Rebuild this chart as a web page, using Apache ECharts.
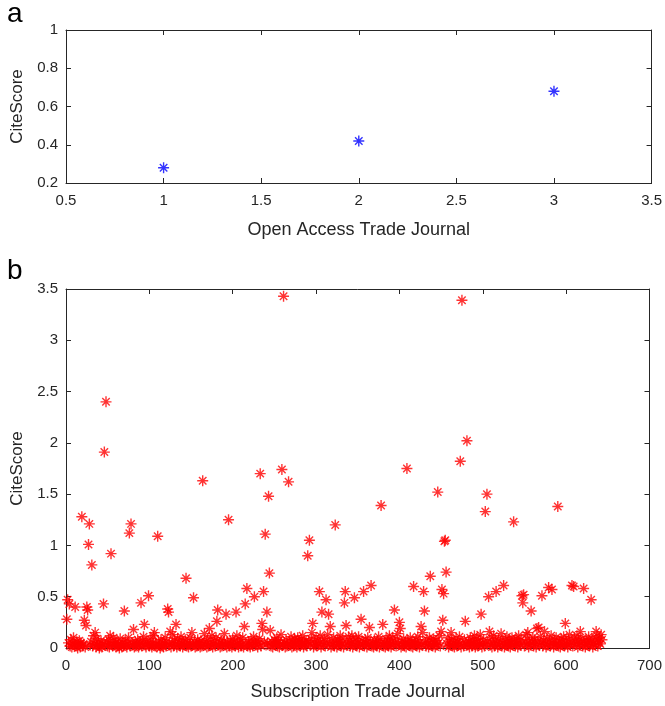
<!DOCTYPE html>
<html>
<head>
<meta charset="utf-8">
<script src="https://cdn.jsdelivr.net/npm/echarts@6/dist/echarts.min.js"></script>
<style>
html,body{margin:0;padding:0;background:#fff;}
#chart{width:665px;height:706px;}
</style>
</head>
<body>
<div id="chart"></div>
<script>
// Panel a: open access trade journals
var openAccessJournal = [1, 2, 3];
var openAccessCiteScore = [0.28, 0.42, 0.68];

// Panel b: subscription trade journals (journal index = position + 1)
var subscriptionCiteScore = [
0.28,0.47,0.05,0.43,0.02,0.08,0.01,0.04,0.1,0.03,0.40,0.02,0.06,0,0.03,0.07,0.01,0.05,1.28,0.02,
0.04,0.27,0.01,0.22,0.40,0.37,1.01,1.21,0.03,0.06,0.81,0.02,0.12,0.04,0.15,0.01,0.09,0.03,0.05,0,
0.02,0.07,0.01,0.04,0.43,1.91,0.03,2.40,0.06,0.02,0.08,0.01,0.12,0.92,0.04,0.02,0.1,0.03,0.05,0.01,
0.06,0.02,0.04,0,0.09,0.03,0.01,0.05,0.02,0.36,0.07,0.03,0.01,0.04,0.1,1.12,0.02,1.21,0.05,0.03,
0.18,0.01,0.06,0.02,0.04,0.08,0.01,0.03,0.05,0.44,0.02,0.07,0.11,0.23,0.03,0.01,0.06,0.04,0.51,0.02,
0.09,0.03,0.01,0.05,0.12,0.15,0.02,0.04,0.01,1.09,0.06,0.03,0,0.08,0.02,0.05,0.01,0.04,0.1,0.02,
0.06,0.38,0.35,0.03,0.16,0.01,0.05,0.13,0.02,0.07,0.04,0.23,0.01,0.09,0.03,0.05,0.02,0.11,0.04,0.01,
0.06,0.03,0.08,0.68,0.02,0.05,0.01,0.04,0.1,0.02,0.15,0.03,0.49,0.06,0.01,0.04,0.02,0.08,0.03,0.05,
0.01,0.07,0.02,1.63,0.04,0.14,0.03,0.06,0.01,0.09,0.02,0.19,0.05,0.03,0.12,0.01,0.04,0.07,0.02,0.1,
0.26,0.37,0.03,0.05,0.01,0.08,0.02,0.04,0.06,0.14,0.03,0.33,0.01,0.05,1.25,0.02,0.07,0.04,0.01,0.09,
0.03,0.06,0.02,0.35,0.12,0.04,0.01,0.05,0.08,0.02,0.03,0.1,0.01,0.21,0.43,0.04,0.58,0.02,0.06,0.03,
0.01,0.08,0.04,0.02,0.11,0.50,0.05,0.03,0.07,0.01,0.04,0.09,1.70,0.02,0.24,0.18,0.55,0.06,1.11,0.03,
0.35,0.05,1.48,0.73,0.17,0.02,0.06,0.01,0.04,0.08,0.03,0.05,0.1,0.02,0.07,0.01,0.04,0.13,1.74,0.03,
3.43,0.05,0.01,0.08,0.02,0.04,1.62,0.06,0.03,0.11,0.01,0.05,0.02,0.09,0.04,0.07,0.01,0.1,0.03,0.06,
0.02,0.08,0.04,0.12,0.01,0.05,0.03,0.07,0.02,0.90,0.06,1.05,0.04,0.09,0.15,0.24,0.01,0.05,0.03,0.1,
0.02,0.07,0.04,0.55,0.12,0.01,0.35,0.06,0.03,0.09,0.02,0.47,0.05,0.13,0.33,0.04,0.21,0.01,0.07,0.03,
0.1,0.02,1.20,0.05,0.01,0.08,0.03,0.06,0.12,0.02,0.04,0.09,0.01,0.44,0.55,0.22,0.05,0.03,0.11,0.07,
0.02,0.04,0.12,0.01,0.06,0.49,0.03,0.09,0.02,0.05,0.11,0.01,0.04,0.28,0.07,0.03,0.55,0.02,0.08,0.05,
0.01,0.1,0.03,0.20,0.06,0.61,0.02,0.04,0.01,0.08,0.03,0.05,0.02,0.07,0.11,0.01,0.04,1.39,0.06,0.23,
0.02,0.05,0.01,0.09,0.03,0.07,0.02,0.12,0.04,0.01,0.06,0.1,0.03,0.37,0.05,0.02,0.08,0.14,0.04,0.25,
0.19,0.01,0.06,0.03,0.09,0.02,0.05,0.01,1.75,0.07,0.03,0.04,0.1,0.02,0.06,0.01,0.60,0.05,0.03,0.08,
0.02,0.11,0.04,0.01,0.06,0.21,0.03,0.15,0.55,0.36,0.05,0.02,0.08,0.04,0.01,0.1,0.70,0.03,0.06,0.02,
0.09,0.04,0.01,0.07,0.03,1.52,0.05,0.12,0.02,0.16,0.57,0.27,0.53,1.04,1.05,0.74,0.04,0.1,0.01,0.06,
0.03,0.15,0.08,0.02,0.05,0.01,0.04,0.09,0.02,0.06,0.03,0.11,1.82,0.01,3.39,0.05,0.02,0.08,0.26,0.04,
2.02,0.03,0.06,0.01,0.1,0.04,0.02,0.07,0.05,0.12,0.01,0.03,0.09,0.02,0.06,0.04,0.13,0.33,0.01,0.05,
0.08,0.02,1.33,0.04,1.50,0.06,0.50,0.16,0.03,0.1,0.01,0.05,0.12,0.02,0.07,0.55,0.04,0.01,0.09,0.03,
0.06,0.14,0.02,0.05,0.61,0.01,0.08,0.03,0.11,0.04,0.02,0.07,0.01,0.05,0.1,0.03,1.23,0.06,0.02,0.09,
0.04,0.01,0.12,0.05,0.03,0.08,0.51,0.44,0.52,0.02,0.06,0.13,0.04,0.15,0.01,0.07,0.03,0.36,0.05,0.1,
0.02,0.08,0.04,0.01,0.19,0.06,0.2,0.03,0.11,0.05,0.51,0.02,0.07,0.16,0.04,0.01,0.09,0.03,0.59,0.06,
0.02,0.12,0.57,0.05,0.01,0.08,0.03,0.1,0.04,1.38,0.02,0.06,0.01,0.09,0.05,0.03,0.11,0.02,0.24,0.07,
0.04,0.01,0.08,0.13,0.03,0.05,0.61,0.02,0.60,0.1,0.06,0.04,0.12,0.01,0.07,0.03,0.16,0.05,0.09,0.02,
0.58,0.04,0.01,0.08,0.06,0.03,0.11,0.02,0.05,0.47,0.09,0.01,0.04,0.07,0.03,0.16,0.12,0.02,0.06,0.1,
0.04,0.13,0.08
];

// Axis ticks
var axisAMin = 0.5, axisAMax = 3.5, axisAStep = 0.5;
var axisAYMin = 0.2, axisAYMax = 1, axisAYStep = 0.2;
var axisBMin = 0, axisBMax = 700, axisBStep = 100;
var axisBYMin = 0, axisBYMax = 3.5, axisBYStep = 0.5;

var FONT = '"Liberation Sans", Arial, Helvetica, sans-serif';
var AX = '#262626';
var STAR = 'path://M5,0 L5,10 M0,5 L10,5 M1.6,1.6 L8.4,8.4 M1.6,8.4 L8.4,1.6';

function xAx(gi, pos, min, max, step, name, gap, show) {
  return {
    type: 'value', gridIndex: gi, position: pos, min: min, max: max, interval: step,
    name: show ? name : '', nameLocation: 'middle', nameGap: gap,
    nameTextStyle: {fontFamily: FONT, fontSize: 18, color: AX},
    axisLine: {show: true, onZero: false, lineStyle: {color: AX, width: 1}},
    axisTick: {show: true, inside: true, length: 5, lineStyle: {color: AX}},
    axisLabel: {show: show, fontFamily: FONT, fontSize: 15, color: AX, margin: 10},
    splitLine: {show: false}
  };
}
function yAx(gi, pos, min, max, step, name, gap, show) {
  return {
    type: 'value', gridIndex: gi, position: pos, min: min, max: max, interval: step,
    name: show ? name : '', nameLocation: 'middle', nameGap: gap,
    nameTextStyle: {fontFamily: FONT, fontSize: 17, color: AX},
    axisLine: {show: true, onZero: false, lineStyle: {color: AX, width: 1}},
    axisTick: {show: true, inside: true, length: 5, lineStyle: {color: AX}},
    axisLabel: {show: show, fontFamily: FONT, fontSize: 15, color: AX, margin: 8},
    splitLine: {show: false}
  };
}

var chart = echarts.init(document.getElementById('chart'), null, {renderer: 'canvas'});
chart.setOption({
  animation: false,
  backgroundColor: '#ffffff',
  grid: [
    {left: 66, top: 30, width: 587, height: 153},
    {left: 66, top: 289, width: 587, height: 360}
  ],
  graphic: [
    {type: 'text', left: 7, top: 0, style: {text: 'a', fontFamily: FONT, fontSize: 28, fill: '#000'}},
    {type: 'text', left: 7, top: 257, style: {text: 'b', fontFamily: FONT, fontSize: 28, fill: '#000'}}
  ],
  xAxis: [
    xAx(0, 'bottom', axisAMin, axisAMax, axisAStep, 'Open Access Trade Journal', 38, true),
    xAx(0, 'top', axisAMin, axisAMax, axisAStep, '', 0, false),
    xAx(1, 'bottom', axisBMin, axisBMax, axisBStep, 'Subscription Trade Journal', 35, true),
    xAx(1, 'top', axisBMin, axisBMax, axisBStep, '', 0, false)
  ],
  yAxis: [
    yAx(0, 'left', axisAYMin, axisAYMax, axisAYStep, 'CiteScore', 40, true),
    yAx(0, 'right', axisAYMin, axisAYMax, axisAYStep, '', 0, false),
    yAx(1, 'left', axisBYMin, axisBYMax, axisBYStep, 'CiteScore', 40, true),
    yAx(1, 'right', axisBYMin, axisBYMax, axisBYStep, '', 0, false)
  ],
  series: [
    {
      type: 'scatter', xAxisIndex: 0, yAxisIndex: 0,
      symbol: STAR, symbolSize: 11,
      itemStyle: {color: 'rgba(0,0,0,0)', borderColor: '#0000ff', borderWidth: 1.4},
      data: openAccessJournal.map(function (x, i) { return [x, openAccessCiteScore[i]]; })
    },
    {
      type: 'scatter', xAxisIndex: 2, yAxisIndex: 2,
      symbol: STAR, symbolSize: 11,
      itemStyle: {color: 'rgba(0,0,0,0)', borderColor: '#ff0000', borderWidth: 1.4},
      data: subscriptionCiteScore.map(function (v, i) { return [i + 1, v]; })
    }
  ]
});
</script>
</body>
</html>
